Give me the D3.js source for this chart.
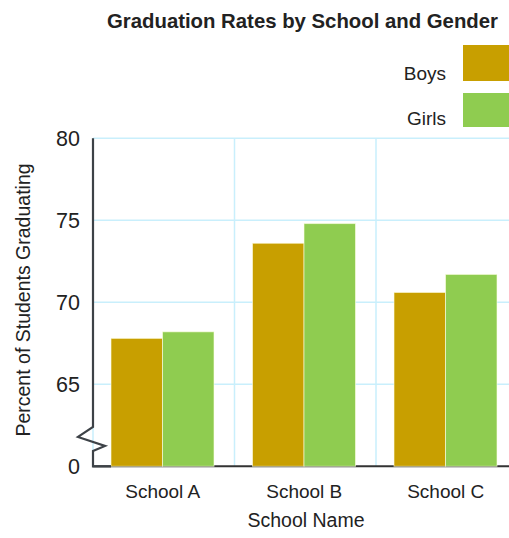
<!DOCTYPE html>
<html><head><meta charset="utf-8">
<script src="https://cdn.jsdelivr.net/npm/d3@7"></script>
<style>
html,body{margin:0;padding:0;background:#fff;}
svg{display:block;}
text{font-family:"Liberation Sans",Arial,sans-serif;fill:#222;}
</style></head>
<body>
<svg id="chart" width="509" height="538"></svg>
<script>
const schools = ["School A", "School B", "School C"];
const genders = ["Boys", "Girls"];
const boys = [67.8, 73.6, 70.6];
const girls = [68.2, 74.8, 71.7];
const tickValues = [60, 65, 70, 75, 80];
const tickLabels = ["0", "65", "70", "75", "80"];
const colors = ["#C89F00", "#8FCC50"];
const title = "Graduation Rates by School and Gender";
const xTitle = "School Name";
const yTitle = "Percent of Students Graduating";

const svg = d3.select("#chart");
const pLeft = 93, pRight = 517.5, pTop = 138.3, pBottom = 466.3;

const x0 = d3.scaleBand().domain(schools).range([pLeft, pRight]).padding(0);
const x1 = d3.scaleBand().domain(genders).range([18, 121]).padding(0);
const y = d3.scaleLinear().domain([60, 80]).range([pBottom, pTop]);
const color = d3.scaleOrdinal().domain(genders).range(colors);

const grid = "#c9effc";
svg.append("g").selectAll("line").data(tickValues.filter(v => v > 60)).join("line")
  .attr("x1", pLeft).attr("x2", 509).attr("y1", d => y(d)).attr("y2", d => y(d))
  .attr("stroke", grid).attr("stroke-width", 1.5);
svg.append("g").selectAll("line").data(schools).join("line")
  .attr("x1", d => x0(d)).attr("x2", d => x0(d)).attr("y1", pTop).attr("y2", pBottom)
  .attr("stroke", grid).attr("stroke-width", 1.5);

svg.append("line").attr("x1", pLeft).attr("x2", 509).attr("y1", pBottom).attr("y2", pBottom)
  .attr("stroke", "#333").attr("stroke-width", 2);

const rows = schools.map((s, i) => ({school: s, values: [boys[i], girls[i]]}));
svg.append("g").selectAll("g").data(rows).join("g")
  .attr("transform", d => `translate(${x0(d.school)},0)`)
  .selectAll("rect").data(d => genders.map((g, j) => ({g, v: d.values[j]}))).join("rect")
  .attr("x", d => x1(d.g)).attr("width", x1.bandwidth())
  .attr("y", d => y(d.v)).attr("height", d => pBottom - y(d.v))
  .attr("fill", d => color(d.g))
  .attr("stroke", "rgba(255,255,230,0.6)").attr("stroke-width", 1);

const yb = y(62.4), ax = pLeft;
const axisPath = d3.path();
axisPath.moveTo(ax, pTop);
axisPath.lineTo(ax, yb);
axisPath.lineTo(ax - 15, yb + 10);
axisPath.lineTo(ax + 12, yb + 19);
axisPath.lineTo(ax, yb + 24);
axisPath.lineTo(ax, pBottom);
axisPath.lineTo(ax + 18, pBottom);
svg.append("path").attr("d", axisPath.toString()).attr("fill", "none")
  .attr("stroke", "#3d4247").attr("stroke-width", 2.2).attr("stroke-linejoin", "miter");

svg.append("g").selectAll("text").data(tickValues).join("text")
  .attr("x", 80).attr("y", d => y(d)).attr("dy", "0.36em")
  .attr("text-anchor", "end").attr("font-size", 21.5)
  .text((d, i) => tickLabels[i]);

svg.append("g").selectAll("text").data(schools).join("text")
  .attr("x", d => x0(d) + x0.bandwidth() / 2 - 1).attr("y", 498)
  .attr("text-anchor", "middle").attr("font-size", 19)
  .text(d => d);

svg.append("text").attr("x", 306).attr("y", 527).attr("text-anchor", "middle")
  .attr("font-size", 19.5).text(xTitle);
svg.append("text").attr("transform", "translate(30,300) rotate(-90)")
  .attr("text-anchor", "middle").attr("font-size", 19.5).text(yTitle);

svg.append("text").attr("x", 107).attr("y", 28).attr("font-size", 20.5)
  .attr("font-weight", "bold").attr("fill", "#111")
  .attr("textLength", 391).attr("lengthAdjust", "spacingAndGlyphs").text(title);

const legend = svg.append("g").selectAll("g").data(genders).join("g");
legend.append("rect").attr("x", 463).attr("y", (d, i) => i ? 93 : 45)
  .attr("width", 60).attr("height", (d, i) => i ? 34 : 36)
  .attr("fill", d => color(d));
legend.append("text").attr("x", 446).attr("y", (d, i) => i ? 125 : 80)
  .attr("text-anchor", "end").attr("font-size", 19).text(d => d);
</script>
</body></html>
